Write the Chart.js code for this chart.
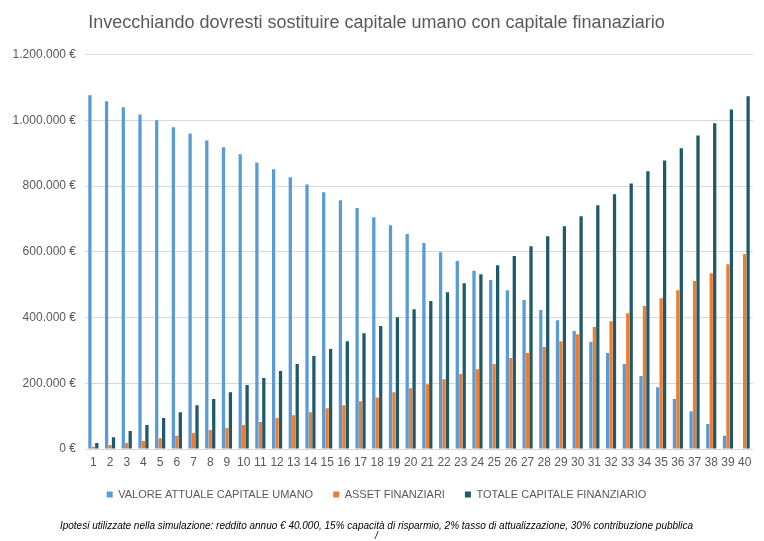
<!DOCTYPE html>
<html>
<head>
<meta charset="utf-8">
<script src="https://cdn.jsdelivr.net/npm/chart.js@4"></script>
<style>
  body { margin: 0; background: #fff; }
  #wrap { width: 764px; height: 541px; }
</style>
</head>
<body>
<div id="wrap"><canvas id="chart" width="764" height="541"></canvas></div>
<script>
const anni = Array.from({ length: 40 }, (_, i) => String(i + 1));

// valori (euro)
const capitaleUmano = [
  1076000, 1058000, 1040000, 1018000, 1000000, 979000, 960000, 939000, 918000, 897000,
  872000, 851000, 827000, 805000, 781000, 757000, 733000, 705000, 681000, 654000,
  627000, 599000, 572000, 542000, 514000, 483000, 453000, 423000, 392000, 359000,
  326000, 292000, 259000, 222000, 188000, 152000, 115000, 76000, 40000, 0
];
const assetFinanziari = [
  6000, 12000, 18000, 24000, 33000, 40000, 49000, 58000, 64000, 73000,
  82000, 94000, 103000, 112000, 124000, 133000, 145000, 157000, 173000, 185000,
  197000, 212000, 228000, 243000, 259000, 277000, 292000, 310000, 328000, 349000,
  371000, 389000, 413000, 435000, 459000, 483000, 511000, 535000, 562000, 593000
];
const totaleFinanziario = [
  18000, 36000, 55000, 73000, 94000, 112000, 133000, 152000, 173000, 195000,
  216000, 237000, 259000, 283000, 304000, 328000, 352000, 374000, 401000, 425000,
  450000, 477000, 504000, 532000, 559000, 587000, 617000, 647000, 678000, 708000,
  742000, 775000, 808000, 845000, 878000, 915000, 954000, 991000, 1033000, 1073000
];

const grigio = "#595959";
const font = "'Liberation Sans', Arial, sans-serif";

function euro(v) {
  return v.toString().replace(/\B(?=(\d{3})+(?!\d))/g, ".") + " €";
}

const ctx = document.getElementById("chart");

new Chart(ctx, {
  type: "bar",
  data: {
    labels: anni,
    datasets: [
      { label: "VALORE ATTUALE CAPITALE UMANO", data: capitaleUmano, backgroundColor: "#5B9BD5" },
      { label: "ASSET FINANZIARI", data: assetFinanziari, backgroundColor: "#ED7D31" },
      { label: "TOTALE CAPITALE FINANZIARIO", data: totaleFinanziario, backgroundColor: "#1E5A69" }
    ]
  },
  options: {
    responsive: false,
    animation: false,
    datasets: {
      bar: { categoryPercentage: 0.62, barPercentage: 0.95 }
    },
    layout: { padding: { left: 0, right: 11, top: 0, bottom: 0 } },
    plugins: {
      title: {
        display: true,
        text: "Invecchiando dovresti sostituire capitale umano con capitale finanaziario",
        color: grigio,
        font: { family: font, size: 18, weight: "normal" },
        padding: { top: 12, bottom: 21 }
      },
      subtitle: {
        display: true,
        position: "bottom",
        text: ["Ipotesi utilizzate nella simulazione: reddito annuo € 40.000, 15% capacità di risparmio, 2% tasso di attualizzazione, 30% contribuzione pubblica", "/"],
        color: "#000",
        font: { family: font, size: 10, style: "italic", lineHeight: 1 },
        padding: { top: 11, bottom: 0 }
      },
      legend: {
        position: "bottom",
        labels: {
          color: grigio,
          boxWidth: 6,
          boxHeight: 6,
          padding: 20,
          font: { family: font, size: 11 }
        }
      },
      tooltip: { enabled: false }
    },
    scales: {
      x: {
        afterFit: s => { s.height = 20; },
        grid: { display: false, drawTicks: false },
        border: { display: false },
        ticks: { color: grigio, font: { family: font, size: 12, lineHeight: 1 }, maxRotation: 0, autoSkip: false, padding: 8 }
      },
      y: {
        min: 0,
        max: 1200000,
        afterFit: s => { s.width = 85; },
        grid: { color: "#D9D9D9", drawTicks: false },
        border: { display: false },
        ticks: {
          stepSize: 200000,
          color: grigio,
          padding: 9,
          font: { family: font, size: 12 },
          callback: v => euro(v)
        }
      }
    }
  }
});
</script>
</body>
</html>
